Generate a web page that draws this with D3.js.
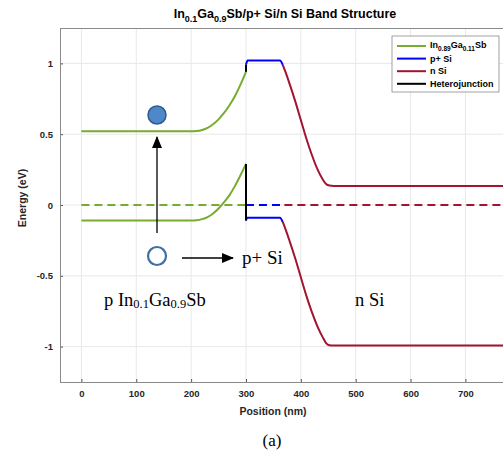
<!DOCTYPE html>
<html><head><meta charset="utf-8">
<script src="https://cdn.jsdelivr.net/npm/d3@7"></script>
<style>body{margin:0;background:#fff}svg{display:block}</style>
</head><body>
<svg id="c" width="503" height="458"></svg>
<script>
// ---- data ----
const xTicks = [0,100,200,300,400,500,600,700];
const yTicks = [-1,-0.5,0,0.5,1];
const yTickLabels = ["-1","-0.5","0","0.5","1"];
// InGaSb conduction & valence bands [position nm, energy eV]
const ingasbCB = [[0,0.52],[100,0.52],[200,0.52],[210,0.522],[220,0.53],[230,0.545],[240,0.57],[250,0.605],[260,0.65],[270,0.705],[280,0.77],[290,0.85],[300,0.94]];
const ingasbVB = [[0,-0.11],[100,-0.11],[200,-0.11],[210,-0.108],[220,-0.10],[230,-0.085],[240,-0.06],[250,-0.025],[260,0.02],[270,0.07],[280,0.135],[290,0.21],[300,0.29]];
// p+ Si
const psiCB = [[300,0.99],[303,1.02],[330,1.02],[362,1.02],[367,0.99]];
const psiVB = [[300,-0.11],[302,-0.09],[330,-0.09],[362,-0.09],[367,-0.12]];
// n Si
const nsiCB = [[367,0.99],[372,0.94],[380,0.85],[390,0.73],[400,0.60],[410,0.47],[420,0.355],[430,0.255],[440,0.18],[446,0.148],[452,0.137],[460,0.134],[600,0.134],[800,0.134]];
const nsiVB = [[367,-0.12],[372,-0.17],[380,-0.26],[390,-0.38],[400,-0.51],[410,-0.64],[420,-0.755],[430,-0.855],[440,-0.935],[446,-0.975],[452,-0.99],[460,-0.993],[600,-0.993],[800,-0.993]];
// heterojunction
const hjUpper = [[300,0.94],[300,0.99]];
const hjLower = [[300,0.29],[300,-0.11]];
// Fermi level (dashed)
const fermiIn = [[0,0],[300,0]];
const fermiP = [[300,0],[370,0]];
const fermiN = [[370,0],[800,0]];
const legendItems = [
  {key:"ingasb", color:"#77ac30"},
  {key:"p+ Si", color:"#0000ff"},
  {key:"n Si", color:"#a2142f"},
  {key:"Heterojunction", color:"#000000"}
];

// ---- drawing ----
const svg = d3.select("#c");
const L=60, R=503, T=28, B=382;
const x = d3.scaleLinear().domain([-39,800]).range([60, 60+839*0.5486]);
const y = d3.scaleLinear().domain([-1.25,1.25]).range([B, T]);
const green="#77ac30", blue="#0000ff", red="#a2142f";

const defs = svg.append("defs");
defs.append("clipPath").attr("id","clip")
  .append("rect").attr("x",L).attr("y",T).attr("width",R-L).attr("height",B-T);

// grid
const g = svg.append("g");
g.selectAll(".gx").data(xTicks).join("line")
  .attr("x1",d=>x(d)).attr("x2",d=>x(d)).attr("y1",T).attr("y2",B)
  .attr("stroke","#e8e8e8").attr("stroke-width",1);
g.selectAll(".gy").data(yTicks).join("line")
  .attr("x1",L).attr("x2",R).attr("y1",d=>y(d)).attr("y2",d=>y(d))
  .attr("stroke","#e8e8e8").attr("stroke-width",1);

// axes with inward ticks
const sans="Liberation Sans, Arial, sans-serif";
const xAxis = d3.axisBottom(x).tickValues(xTicks).tickSize(-3).tickPadding(8);
const yAxis = d3.axisLeft(y).tickValues(yTicks).tickSize(-3).tickPadding(7).tickFormat((d,i)=>yTickLabels[i]);
const gx = svg.append("g").attr("transform",`translate(0,${B})`).call(xAxis);
const gy = svg.append("g").attr("transform",`translate(${L},0)`).call(yAxis);
[gx,gy].forEach(a=>{
  a.select(".domain").remove();
  a.selectAll(".tick line").attr("stroke","#555");
  a.selectAll(".tick text").attr("fill","#262626").style("font-family",sans)
   .style("font-size","9.5px").style("font-weight","bold");
});
// box
svg.append("line").attr("x1",L).attr("x2",R).attr("y1",B+0.5).attr("y2",B+0.5).attr("stroke","#8a8a8a");
svg.append("line").attr("x1",L+0.5).attr("x2",L+0.5).attr("y1",T).attr("y2",B).attr("stroke","#8a8a8a");
svg.append("line").attr("x1",L).attr("x2",R).attr("y1",T+0.5).attr("y2",T+0.5).attr("stroke","#8a8a8a");

// lines
const plot = svg.append("g").attr("clip-path","url(#clip)");
const line = d3.line().x(d=>x(d[0])).y(d=>y(d[1])).curve(d3.curveMonotoneX);
const lineL = d3.line().x(d=>x(d[0])).y(d=>y(d[1]));
function draw(data,color,dash,gen){
  plot.append("path").datum(data).attr("d",(gen||line)).attr("fill","none")
    .attr("stroke",color).attr("stroke-width",2).attr("stroke-dasharray",dash||null);
}
draw(fermiIn,green,"8,5",lineL);
draw(fermiP,blue,"8,5",lineL);
draw(fermiN,red,"8,5",lineL);
draw(ingasbCB,green); draw(ingasbVB,green);
draw(psiCB,blue); draw(psiVB,blue);
draw(nsiCB,red); draw(nsiVB,red);
draw(hjUpper,"#000",null,lineL); draw(hjLower,"#000",null,lineL);

// title
const title = svg.append("text").attr("x",285).attr("y",18).attr("text-anchor","middle")
  .style("font-family",sans).style("font-weight","bold").style("font-size","12.5px").attr("fill","#000");
title.append("tspan").text("In");
title.append("tspan").text("0.1").attr("dy",3.5).style("font-size","9px");
title.append("tspan").text("Ga").attr("dy",-3.5);
title.append("tspan").text("0.9").attr("dy",3.5).style("font-size","9px");
title.append("tspan").text("Sb/p+ Si/n Si Band Structure").attr("dy",-3.5);

// axis labels
svg.append("text").attr("x",273).attr("y",415).attr("text-anchor","middle")
  .style("font-family",sans).style("font-weight","bold").style("font-size","10.5px").attr("fill","#262626").text("Position (nm)");
svg.append("text").attr("transform","translate(26,198) rotate(-90)").attr("text-anchor","middle")
  .style("font-family",sans).style("font-weight","bold").style("font-size","10.5px").attr("fill","#262626").text("Energy (eV)");
svg.append("text").attr("x",272).attr("y",446).attr("text-anchor","middle")
  .style("font-family","Liberation Serif, Times New Roman, serif").style("font-size","17px").attr("fill","#000").text("(a)");

// legend
const lg = svg.append("g");
lg.append("rect").attr("x",392).attr("y",36).attr("width",107).attr("height",56)
  .attr("fill","#fff").attr("stroke","#8a8a8a").attr("stroke-width",0.8);
legendItems.forEach((it,i)=>{
  const yy = 46 + i*12.6;
  lg.append("line").attr("x1",397).attr("x2",426).attr("y1",yy).attr("y2",yy).attr("stroke",it.color).attr("stroke-width",2);
  const t = lg.append("text").attr("x",430).attr("y",yy+3.2)
    .style("font-family",sans).style("font-weight","bold").style("font-size","9px").attr("fill","#000");
  if(it.key==="ingasb"){
    t.attr("y",yy+1.5);
    t.append("tspan").text("In");
    t.append("tspan").text("0.89").attr("dy",3).style("font-size","6.5px");
    t.append("tspan").text("Ga").attr("dy",-3);
    t.append("tspan").text("0.11").attr("dy",3).style("font-size","6.5px");
    t.append("tspan").text("Sb").attr("dy",-3);
  } else t.text(it.key);
});

// annotations
const serif="Liberation Serif, Times New Roman, serif";
defs.append("marker").attr("id","ah").attr("viewBox","0 0 12 10").attr("refX",11).attr("refY",5)
  .attr("markerWidth",12).attr("markerHeight",10).attr("markerUnits","userSpaceOnUse").attr("orient","auto")
  .append("path").attr("d","M0,0L12,5L0,10Z").attr("fill","#000");
svg.append("line").attr("x1",157).attr("x2",157).attr("y1",233).attr("y2",137)
  .attr("stroke","#000").attr("stroke-width",1.3).attr("marker-end","url(#ah)");
svg.append("line").attr("x1",182).attr("x2",233).attr("y1",258).attr("y2",258)
  .attr("stroke","#000").attr("stroke-width",1.3).attr("marker-end","url(#ah)");
svg.append("circle").attr("cx",157).attr("cy",115).attr("r",9)
  .attr("fill","#4f88c9").attr("stroke","#2e5b8a").attr("stroke-width",1.5);
svg.append("circle").attr("cx",157).attr("cy",256).attr("r",9)
  .attr("fill","#fff").attr("stroke","#3f6fa3").attr("stroke-width",2.2);
svg.append("text").attr("x",242).attr("y",264).style("font-family",serif).style("font-size","19px").attr("fill","#000").text("p+ Si");
const pt = svg.append("text").attr("x",104).attr("y",306).style("font-family",serif).style("font-size","18.5px").attr("fill","#000");
pt.append("tspan").text("p In");
pt.append("tspan").text("0.1").attr("dy",2).style("font-size","12.5px");
pt.append("tspan").text("Ga").attr("dy",-2);
pt.append("tspan").text("0.9").attr("dy",2).style("font-size","12.5px");
pt.append("tspan").text("Sb").attr("dy",-2);
svg.append("text").attr("x",355).attr("y",306).style("font-family",serif).style("font-size","18.5px").attr("fill","#000").text("n Si");
</script>
</body></html>
